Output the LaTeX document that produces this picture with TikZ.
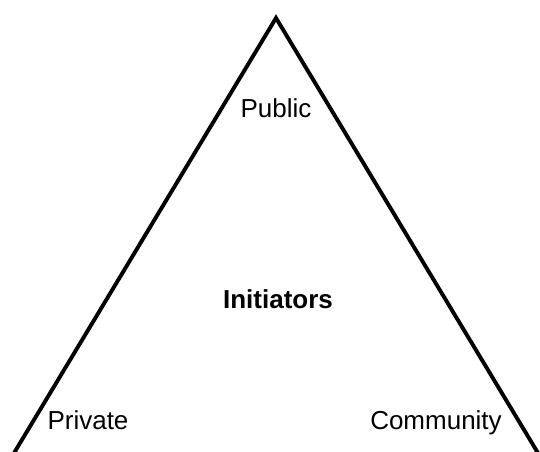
\documentclass[tikz,border=0pt]{standalone}
\usepackage{fontspec}
\setmainfont{Liberation Sans}
\begin{document}
\begin{tikzpicture}[x=1pt,y=-1pt,
  lbl/.style={anchor=base, inner sep=0pt, font=\fontsize{26}{31}\selectfont},
  side/.style={line width=3.9pt, line join=miter}]
\useasboundingbox (0,0) rectangle (540,451);
\begin{scope}
\clip (0,0) rectangle (540,451);
\coordinate (apex) at (276,18);
\coordinate (bl) at (8,463);
\coordinate (br) at (544,463);
\draw[side] (bl) -- (apex) -- (br);
\end{scope}
\node[lbl] (public) at (276,117) {Public};
\node[lbl, font=\fontsize{26}{31}\selectfont\bfseries] (init) at (278,308) {Initiators};
\node[lbl] (private) at (88,429) {Private};
\node[lbl] (community) at (436,429) {Community};
\end{tikzpicture}
\end{document}
